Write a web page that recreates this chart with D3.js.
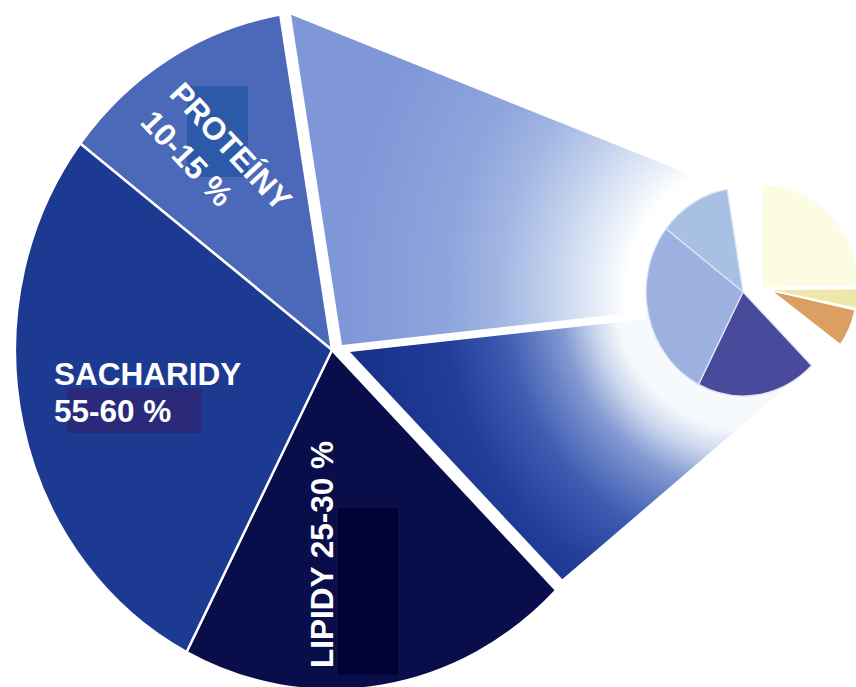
<!DOCTYPE html>
<html><head><meta charset="utf-8">
<script src="https://cdn.jsdelivr.net/npm/d3@7"></script>
<style>html,body{margin:0;padding:0;background:#fff;} svg{display:block;}</style>
</head><body>
<svg id="chart" width="856" height="687"></svg>
<script>
// ---------------- data ----------------
const categories = ["PROTEÍNY", "SACHARIDY", "LIPIDY"];
const ranges = ["10-15 %", "55-60 %", "25-30 %"];
// big disc, clockwise from the start of PROTEÍNY, shares of the full circle (%)
const bigKeys = ["PROTEÍNY", "upper", "lower", "LIPIDY", "SACHARIDY"];
const bigShares = [12.0, 26.0, 14.1, 20.1, 27.8];
// small disc, same start, shares of the full circle (%)
const smallKeys = ["PROTEÍNY", "gap", "pale", "gap", "yellow", "gap", "orange", "gap", "LIPIDY", "SACHARIDY"];
const smallShares = [12.0, 2.65, 24.7, 0.15, 3.2, 0.3, 6.65, 2.45, 20.1, 27.8];

// ---------------- layout / style ----------------
const W = 856, H = 687;
const SY = 1.0726;                      // vertical stretch of the scanned picture
const rad = d => d * Math.PI / 180;
const START = rad(307.4);
const big = {x: 332, y: 350 / SY, r: 317};
const small = {x: 743, y: 292 / SY, r: 97};
const bigFill = {"PROTEÍNY": "#4b69b8", "SACHARIDY": "#1d3a93", "LIPIDY": "#090e4a"};
const smallStyle = {
  "PROTEÍNY": {fill: "#a9c0e5", x: 743, y: 292, r: 97},
  "SACHARIDY": {fill: "#9cb1e0", x: 743, y: 292, r: 97},
  "LIPIDY": {fill: "#4a4a9d", x: 743, y: 292, r: 97},
  "pale": {fill: "#fcfce2", x: 763, y: 287, r: 95},
  "yellow": {fill: "#eee7a9", x: 773, y: 290, r: 92},
  "orange": {fill: "#dc9f62", x: 774, y: 292, r: 82}
};

const svg = d3.select("#chart");
const defs = svg.append("defs");
function radial(id, stops) {
  const g = defs.append("radialGradient").attr("id", id)
    .attr("gradientUnits", "userSpaceOnUse")
    .attr("cx", small.x).attr("cy", small.y).attr("r", 400)
    .attr("fx", small.x).attr("fy", small.y);
  stops.forEach(s => g.append("stop").attr("offset", s[0]).attr("stop-color", s[1]));
}
radial("gUpper", [[0, "#ffffff"], [0.29, "#ffffff"], [0.37, "#e4ecf8"], [0.49, "#bfcfec"],
  [0.61, "#a2b6e3"], [0.74, "#8ea5dc"], [0.88, "#859dda"], [1, "#7f97d7"]]);
radial("gLower", [[0, "#ffffff"], [0.32, "#f5f8fc"], [0.38, "#cbd7ee"], [0.46, "#8299d1"],
  [0.6, "#3f5cb3"], [0.75, "#223d97"], [1, "#16308a"]]);

const scene = svg.append("g").attr("transform", `scale(1,${SY})`);

const pie = d3.pie().sort(null).value(d => d.v)
  .startAngle(START).endAngle(START + 2 * Math.PI);
const bigArcs = pie(bigKeys.map((k, i) => ({k, v: bigShares[i]})));
const smallArcs = pie(smallKeys.map((k, i) => ({k, v: smallShares[i]})));

const pt = (c, r, a) => [c.x + r * Math.sin(a), c.y - r * Math.cos(a)];

// ---- connectors (exploded part of the big disc, fading into the small disc)
const up = bigArcs.find(d => d.data.k === "upper");
const lo = bigArcs.find(d => d.data.k === "lower");
const V1 = {x: 342, y: 345 / SY};
const V2 = {x: 350, y: 352 / SY};
const Su = [745, 300 / SY], Sl = [745, 308 / SY];
const line = d3.line();
scene.append("path")
  .attr("d", line([[V1.x, V1.y], pt(V1, 312, up.startAngle), pt(small, small.r, up.startAngle), Su]) + "Z")
  .attr("fill", "url(#gUpper)");
scene.append("path")
  .attr("d", line([[V2.x, V2.y], Sl, pt(small, small.r, lo.endAngle), pt(V2, 300, lo.endAngle)]) + "Z")
  .attr("fill", "url(#gLower)");

// ---- big disc
const arcBig = d3.arc().innerRadius(0).outerRadius(big.r);
scene.append("g").attr("transform", `translate(${big.x},${big.y})`)
  .selectAll("path").data(bigArcs.filter(d => categories.includes(d.data.k)))
  .join("path")
  .attr("d", arcBig)
  .attr("fill", d => bigFill[d.data.k])
  .attr("stroke", "#ffffff").attr("stroke-width", 2.4).attr("stroke-linejoin", "round");

// ---- small disc
scene.append("g").selectAll("path")
  .data(smallArcs.filter(d => d.data.k !== "gap"))
  .join("path")
  .attr("transform", d => `translate(${smallStyle[d.data.k].x},${smallStyle[d.data.k].y / SY})`)
  .attr("d", d => d3.arc().innerRadius(0).outerRadius(smallStyle[d.data.k].r)(d))
  .attr("fill", d => smallStyle[d.data.k].fill)
  .attr("stroke", d => categories.includes(d.data.k) ? "#dce6f4" : "none")
  .attr("stroke-width", 1.3);

// ---- label patches and labels
const patches = [
  {x: 187, y: 86, w: 61, h: 91, fill: "#2c5aa9"},
  {x: 67, y: 388, w: 135, h: 45, fill: "#2b2a7a"},
  {x: 338, y: 508, w: 60, h: 167, fill: "#020238"}
];
svg.append("g").selectAll("rect").data(patches).join("rect")
  .attr("x", d => d.x).attr("y", d => d.y).attr("width", d => d.w).attr("height", d => d.h)
  .attr("fill", d => d.fill);

const font = {family: "'Liberation Sans', Arial, sans-serif", size: 31.5};
const labels = [
  {t: categories[0], x: 168, y: 95, rot: 47},
  {t: ranges[0], x: 139, y: 123, rot: 47},
  {t: categories[1], x: 54, y: 385, rot: 0},
  {t: ranges[1], x: 54, y: 422, rot: 0},
  {t: categories[2] + " " + ranges[2], x: 333, y: 668, rot: -90}
];
svg.append("g").selectAll("text").data(labels).join("text")
  .attr("transform", d => `translate(${d.x},${d.y}) rotate(${d.rot})`)
  .attr("font-family", font.family).attr("font-size", font.size).attr("font-weight", "bold")
  .attr("fill", "#ffffff")
  .text(d => d.t);
</script>
</body></html>
